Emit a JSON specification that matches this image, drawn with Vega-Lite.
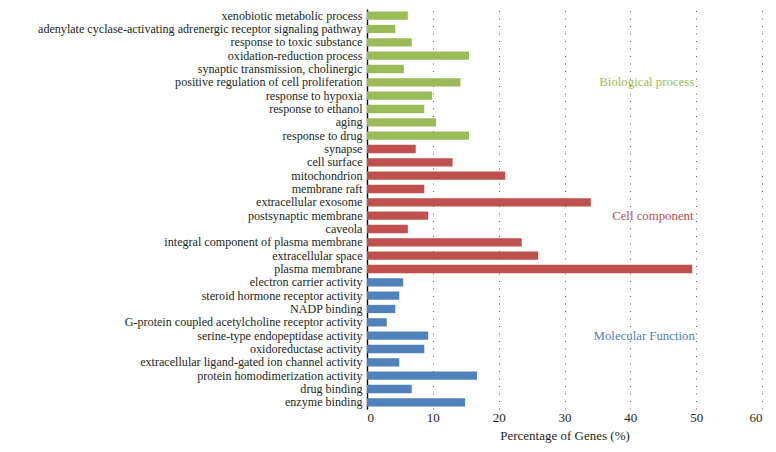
{
  "$schema": "https://vega.github.io/schema/vega-lite/v6.json",
  "width": 395,
  "height": 400,
  "autosize": "none",
  "padding": {"left": 367, "top": 9, "right": 14, "bottom": 43},
  "config": {"view": {"stroke": null}, "font": "Liberation Serif"},
  "datasets": {
    "genes": [
      {"term": "xenobiotic metabolic process", "pct": 6.2, "category": "Biological process"},
      {"term": "adenylate cyclase-activating adrenergic receptor signaling pathway", "pct": 4.3, "category": "Biological process"},
      {"term": "response to toxic substance", "pct": 6.8, "category": "Biological process"},
      {"term": "oxidation-reduction process", "pct": 15.5, "category": "Biological process"},
      {"term": "synaptic transmission, cholinergic", "pct": 5.6, "category": "Biological process"},
      {"term": "positive regulation of cell proliferation", "pct": 14.2, "category": "Biological process"},
      {"term": "response to hypoxia", "pct": 9.9, "category": "Biological process"},
      {"term": "response to ethanol", "pct": 8.7, "category": "Biological process"},
      {"term": "aging", "pct": 10.5, "category": "Biological process"},
      {"term": "response to drug", "pct": 15.5, "category": "Biological process"},
      {"term": "synapse", "pct": 7.4, "category": "Cell component"},
      {"term": "cell surface", "pct": 13.0, "category": "Cell component"},
      {"term": "mitochondrion", "pct": 21.0, "category": "Cell component"},
      {"term": "membrane raft", "pct": 8.7, "category": "Cell component"},
      {"term": "extracellular exosome", "pct": 34.0, "category": "Cell component"},
      {"term": "postsynaptic membrane", "pct": 9.3, "category": "Cell component"},
      {"term": "caveola", "pct": 6.2, "category": "Cell component"},
      {"term": "integral component of plasma membrane", "pct": 23.5, "category": "Cell component"},
      {"term": "extracellular space", "pct": 26.0, "category": "Cell component"},
      {"term": "plasma membrane", "pct": 49.4, "category": "Cell component"},
      {"term": "electron carrier activity", "pct": 5.5, "category": "Molecular Function"},
      {"term": "steroid hormone receptor activity", "pct": 4.9, "category": "Molecular Function"},
      {"term": "NADP binding", "pct": 4.3, "category": "Molecular Function"},
      {"term": "G-protein coupled acetylcholine receptor activity", "pct": 3.0, "category": "Molecular Function"},
      {"term": "serine-type endopeptidase activity", "pct": 9.3, "category": "Molecular Function"},
      {"term": "oxidoreductase activity", "pct": 8.7, "category": "Molecular Function"},
      {"term": "extracellular ligand-gated ion channel activity", "pct": 4.9, "category": "Molecular Function"},
      {"term": "protein homodimerization activity", "pct": 16.7, "category": "Molecular Function"},
      {"term": "drug binding", "pct": 6.8, "category": "Molecular Function"},
      {"term": "enzyme binding", "pct": 14.9, "category": "Molecular Function"}
    ],
    "labels": [
      {"term": "positive regulation of cell proliferation", "x": 49.7, "label": "Biological process", "category": "Biological process"},
      {"term": "postsynaptic membrane", "x": 49.6, "label": "Cell component", "category": "Cell component"},
      {"term": "serine-type endopeptidase activity", "x": 49.8, "label": "Molecular Function", "category": "Molecular Function"}
    ]
  },
  "layer": [
    {
      "data": {"name": "genes"},
      "mark": {"type": "bar"},
      "encoding": {
        "y": {
          "field": "term", "type": "nominal", "sort": null,
          "scale": {"paddingInner": 0.38, "paddingOuter": 0.19},
          "axis": {"title": null, "ticks": false, "domainColor": "#000000", "domainWidth": 1.4, "labelFontSize": 12.1, "labelColor": "#231F20", "labelPadding": 5, "labelLimit": 400, "grid": false}
        },
        "x": {
          "field": "pct", "type": "quantitative",
          "scale": {"domain": [0, 60], "nice": false},
          "axis": {"values": [0, 10, 20, 30, 40, 50, 60], "title": "Percentage of Genes (%)", "titleFontSize": 13, "titleFontWeight": "normal", "titleColor": "#231F20", "titlePadding": 5, "grid": true, "gridDash": [1, 6.5], "gridColor": "#555555", "gridWidth": 1, "domain": false, "ticks": false, "labelFontSize": 13, "labelColor": "#231F20", "labelPadding": 2}
        },
        "color": {
          "field": "category", "type": "nominal",
          "scale": {"domain": ["Biological process", "Cell component", "Molecular Function"], "range": ["#9BBB59", "#C0504D", "#4F81BD"]},
          "legend": null
        }
      }
    },
    {
      "data": {"name": "labels"},
      "mark": {"type": "text", "align": "right", "baseline": "middle", "fontSize": 12.8},
      "encoding": {
        "y": {"field": "term", "type": "nominal", "sort": null},
        "x": {"field": "x", "type": "quantitative"},
        "text": {"field": "label"},
        "color": {"field": "category", "type": "nominal", "legend": null}
      }
    }
  ]
}
